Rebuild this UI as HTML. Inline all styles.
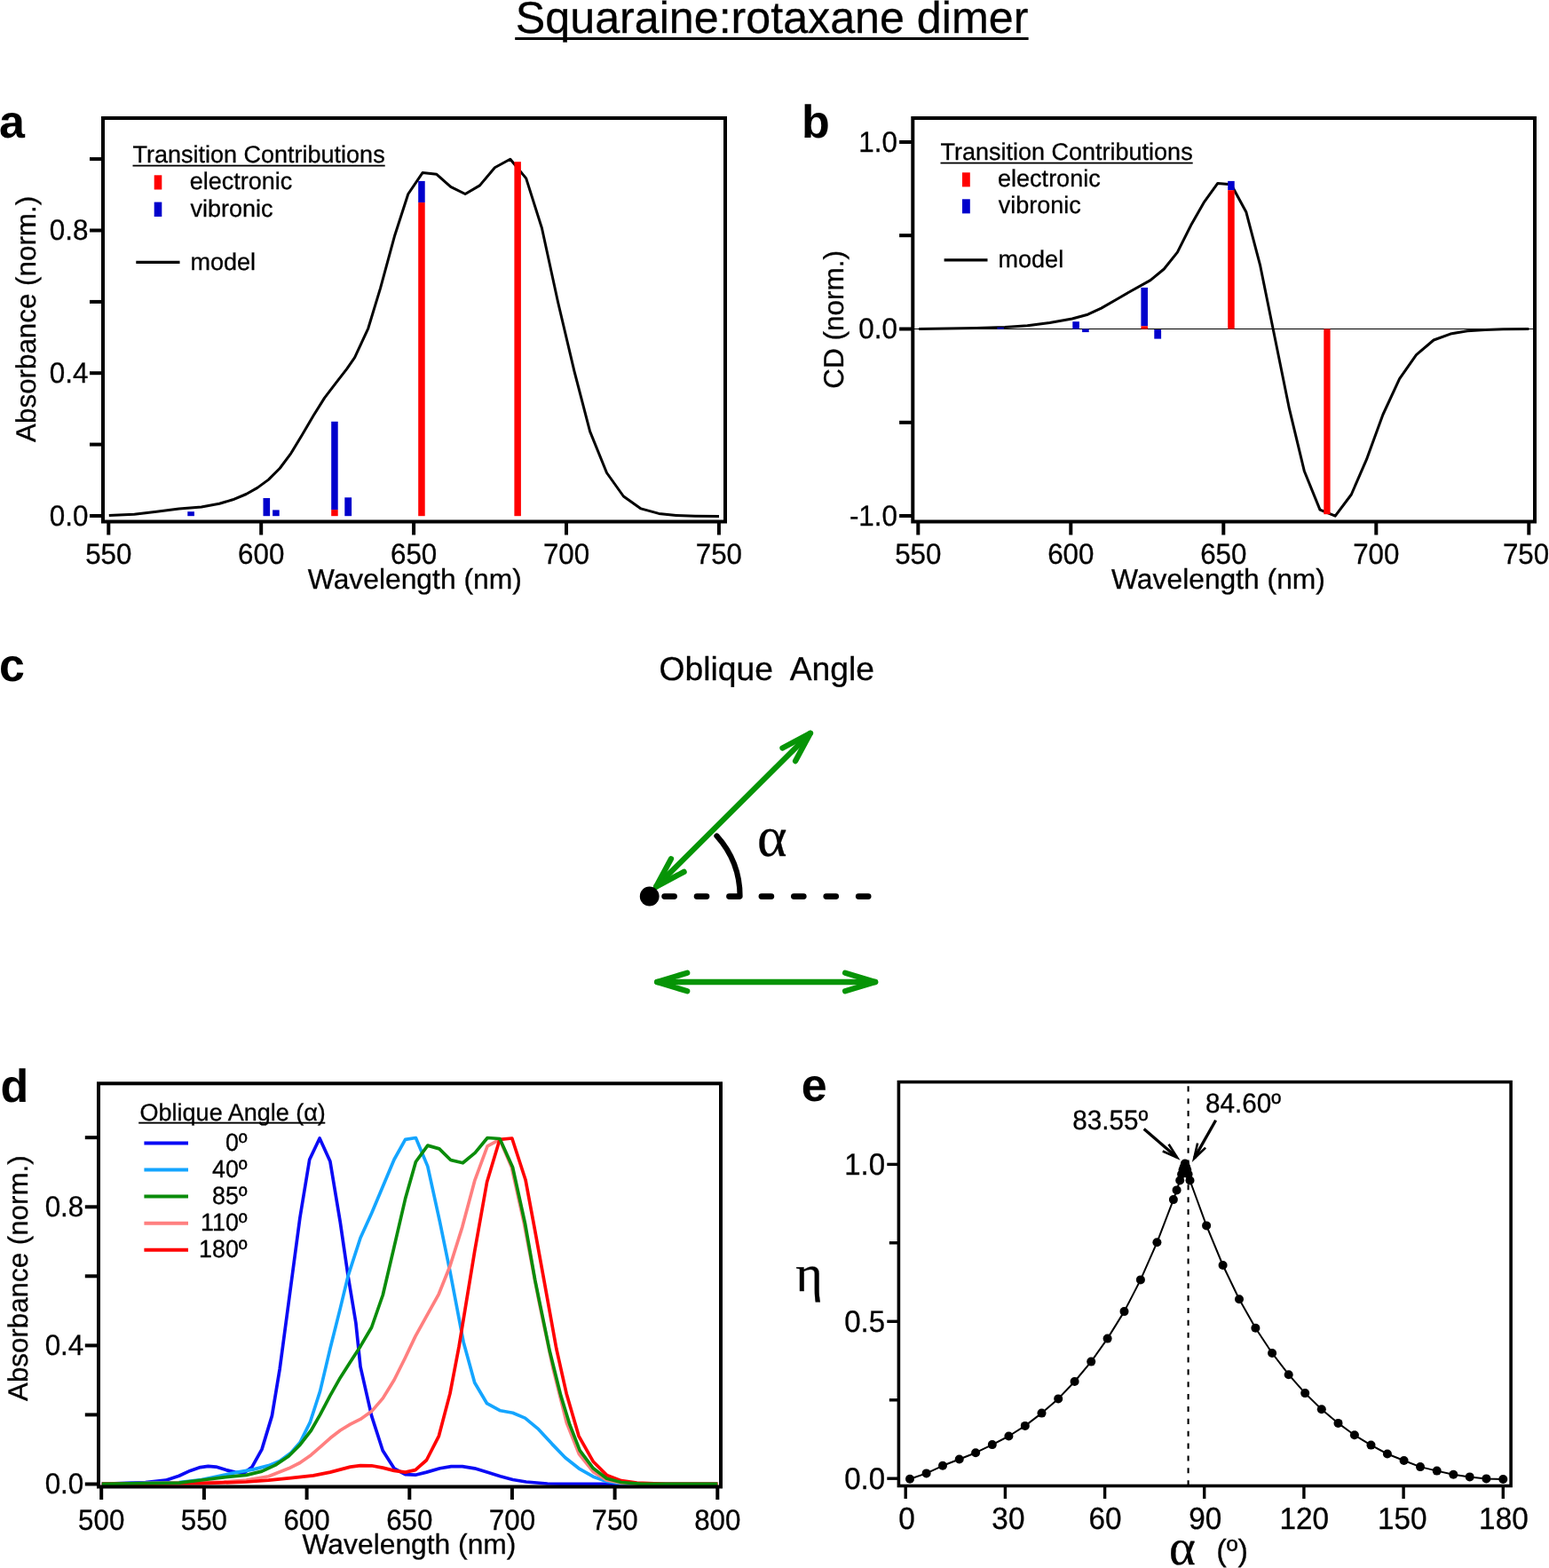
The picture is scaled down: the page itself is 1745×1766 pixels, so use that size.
<!DOCTYPE html>
<html lang="en">
<head>
<meta charset="utf-8">
<title>Squaraine:rotaxane dimer</title>
<style>
html,body{margin:0;padding:0;background:#fff;}
body{width:1745px;height:1766px;overflow:hidden;}
svg{display:block;font-family:'Liberation Sans', sans-serif;fill:#000;text-rendering:geometricPrecision;}
</style>
</head>
<body>
<svg width="1745" height="1766" viewBox="0 0 1745 1766">
<rect x="0" y="0" width="1745" height="1766" fill="#fff"/>
<text x="869.6" y="36.6" font-size="50.2" text-anchor="middle" stroke="#000" stroke-width="0.3">Squaraine:rotaxane dimer</text>
<rect x="580.2" y="42" width="578.4" height="3" fill="#000"/>
<text x="-1" y="155.3" font-size="52" font-weight="bold">a</text>
<text x="903" y="155.3" font-size="52" font-weight="bold">b</text>
<text x="-1" y="767" font-size="52" font-weight="bold">c</text>
<text x="0.5" y="1241" font-size="52" font-weight="bold">d</text>
<text x="902.8" y="1239.8" font-size="52" font-weight="bold">e</text>
<polyline points="122.8,580.5 151.3,579.2 176.5,576.2 201.7,573.1 226.9,570.9 247.1,567.3 262.2,562.8 277.4,556.5 290,549.4 302.6,540.1 315.2,527.5 327.8,510.6 340.4,489.7 353,468.3 365.6,448.1 378.2,431.7 390.8,415.3 399.6,402.7 414.8,369.8 428.6,324.4 444.7,265.2 459.8,218.5 476,194.6 491.9,196.3 507.7,210.4 524.1,218.5 540.5,208.9 557.4,188.8 574.8,179.2 592.7,200.9 610.4,256.8 628.5,340 646.9,417.8 664.6,485.9 683.5,532.5 702.4,559 722.1,572.9 742.2,578.4 761.7,580.5 783,581.2 810,581.5" fill="none" stroke="#000" stroke-width="3.0" stroke-linejoin="round"/>
<rect x="211.3" y="576.2" width="7.6" height="5" fill="#0000cc"/>
<rect x="296.5" y="561" width="7.6" height="20.2" fill="#0000cc"/>
<rect x="307.1" y="574.4" width="7.6" height="6.8" fill="#0000cc"/>
<rect x="373.2" y="474.8" width="7.5" height="99.3" fill="#0000cc"/>
<rect x="373.2" y="574.1" width="7.5" height="7.1" fill="#ff0000"/>
<rect x="388.3" y="560.3" width="7.8" height="20.9" fill="#0000cc"/>
<rect x="471.2" y="203.9" width="7.5" height="24.2" fill="#0000cc"/>
<rect x="471.2" y="228.1" width="7.5" height="353.1" fill="#ff0000"/>
<rect x="579.4" y="182.2" width="7.5" height="399" fill="#ff0000"/>
<rect x="116" y="133" width="701" height="454.5" fill="none" stroke="#000" stroke-width="4"/>
<line x1="101" y1="581" x2="116" y2="581" stroke="#000" stroke-width="4"/>
<line x1="101" y1="500.6" x2="116" y2="500.6" stroke="#000" stroke-width="4"/>
<line x1="101" y1="420.2" x2="116" y2="420.2" stroke="#000" stroke-width="4"/>
<line x1="101" y1="339.9" x2="116" y2="339.9" stroke="#000" stroke-width="4"/>
<line x1="101" y1="259.5" x2="116" y2="259.5" stroke="#000" stroke-width="4"/>
<line x1="101" y1="179.1" x2="116" y2="179.1" stroke="#000" stroke-width="4"/>
<line x1="122.3" y1="587.5" x2="122.3" y2="602.5" stroke="#000" stroke-width="4"/>
<text transform="translate(122.3,635) scale(1,1.04)" font-size="31.3" text-anchor="middle" stroke="#000" stroke-width="0.3">550</text>
<line x1="294.2" y1="587.5" x2="294.2" y2="602.5" stroke="#000" stroke-width="4"/>
<text transform="translate(294.2,635) scale(1,1.04)" font-size="31.3" text-anchor="middle" stroke="#000" stroke-width="0.3">600</text>
<line x1="466.1" y1="587.5" x2="466.1" y2="602.5" stroke="#000" stroke-width="4"/>
<text transform="translate(466.1,635) scale(1,1.04)" font-size="31.3" text-anchor="middle" stroke="#000" stroke-width="0.3">650</text>
<line x1="638" y1="587.5" x2="638" y2="602.5" stroke="#000" stroke-width="4"/>
<text transform="translate(638,635) scale(1,1.04)" font-size="31.3" text-anchor="middle" stroke="#000" stroke-width="0.3">700</text>
<line x1="809.9" y1="587.5" x2="809.9" y2="602.5" stroke="#000" stroke-width="4"/>
<text transform="translate(809.9,635) scale(1,1.04)" font-size="31.3" text-anchor="middle" stroke="#000" stroke-width="0.3">750</text>
<text transform="translate(99.5,591.65) scale(1,1.04)" font-size="31.4" text-anchor="end" stroke="#000" stroke-width="0.3">0.0</text>
<text transform="translate(99.5,430.89) scale(1,1.04)" font-size="31.4" text-anchor="end" stroke="#000" stroke-width="0.3">0.4</text>
<text transform="translate(99.5,270.13) scale(1,1.04)" font-size="31.4" text-anchor="end" stroke="#000" stroke-width="0.3">0.8</text>
<text x="467.3" y="663.3" font-size="31.8" text-anchor="middle" stroke="#000" stroke-width="0.3">Wavelength (nm)</text>
<text transform="translate(39.5,359.4) rotate(-90)" font-size="31.35" text-anchor="middle" stroke="#000" stroke-width="0.3">Absorbance (norm.)</text>
<text x="149.5" y="183.2" font-size="27" stroke="#000" stroke-width="0.3">Transition Contributions</text>
<rect x="149.5" y="185.7" width="284.2" height="1.8" fill="#000"/>
<rect x="173.7" y="197.3" width="8.6" height="16.2" fill="#ff0000"/>
<text x="213.8" y="213" font-size="27" stroke="#000" stroke-width="0.3">electronic</text>
<rect x="173.7" y="227.6" width="8.6" height="16.4" fill="#0000cc"/>
<text x="214.5" y="243.7" font-size="27" stroke="#000" stroke-width="0.3">vibronic</text>
<line x1="153.3" y1="295.4" x2="202.5" y2="295.4" stroke="#000" stroke-width="3.2"/>
<text x="214.5" y="303.7" font-size="27" stroke="#000" stroke-width="0.3">model</text>
<line x1="1028.3" y1="370.5" x2="1729" y2="370.5" stroke="#000" stroke-width="1.2"/>
<polyline points="1035,370.5 1100,369.5 1132.1,368.5 1157.4,366.8 1182.6,363.5 1207.8,359 1225.4,354.2 1240.6,347.1 1258.2,337 1273.3,328.2 1296,315.6 1311.3,303 1326.4,284.1 1341.6,253.8 1356.7,227.3 1371.8,206.4 1387,207.7 1403.8,238.7 1419.7,299.2 1436.1,380 1452.5,460.7 1469.4,530.8 1487,574.1 1504.2,581.2 1522.3,557 1539.5,517.4 1557.9,467 1576.6,426.6 1595.5,399.7 1615.1,383 1634,376.1 1653,372.8 1673.1,371.6 1693.3,370.8 1722.3,370.5" fill="none" stroke="#000" stroke-width="3.0" stroke-linejoin="round"/>
<rect x="1123.3" y="368.8" width="7.6" height="1.7" fill="#0000cc"/>
<rect x="1208.3" y="362.2" width="7.6" height="8.3" fill="#0000cc"/>
<rect x="1219.1" y="370.5" width="7.6" height="3.6" fill="#0000cc"/>
<rect x="1285.4" y="323.9" width="7.6" height="43.4" fill="#0000cc"/>
<rect x="1285.4" y="367.3" width="7.6" height="3.2" fill="#ff0000"/>
<rect x="1300.3" y="371" width="7.8" height="10.6" fill="#0000cc"/>
<rect x="1383.2" y="203.9" width="7.5" height="10.3" fill="#0000cc"/>
<rect x="1383.2" y="214.2" width="7.5" height="156.3" fill="#ff0000"/>
<rect x="1491.3" y="370.5" width="7.3" height="208.7" fill="#ff0000"/>
<rect x="1028.3" y="133" width="700.7" height="454.5" fill="none" stroke="#000" stroke-width="4"/>
<line x1="1013.1" y1="581" x2="1028.3" y2="581" stroke="#000" stroke-width="4"/>
<line x1="1013.1" y1="475.8" x2="1028.3" y2="475.8" stroke="#000" stroke-width="4"/>
<line x1="1013.1" y1="370.5" x2="1028.3" y2="370.5" stroke="#000" stroke-width="4"/>
<line x1="1013.1" y1="265.2" x2="1028.3" y2="265.2" stroke="#000" stroke-width="4"/>
<line x1="1013.1" y1="160" x2="1028.3" y2="160" stroke="#000" stroke-width="4"/>
<line x1="1034.3" y1="587.5" x2="1034.3" y2="602.5" stroke="#000" stroke-width="4"/>
<text transform="translate(1034.3,635) scale(1,1.04)" font-size="31.3" text-anchor="middle" stroke="#000" stroke-width="0.3">550</text>
<line x1="1206.3" y1="587.5" x2="1206.3" y2="602.5" stroke="#000" stroke-width="4"/>
<text transform="translate(1206.3,635) scale(1,1.04)" font-size="31.3" text-anchor="middle" stroke="#000" stroke-width="0.3">600</text>
<line x1="1378.3" y1="587.5" x2="1378.3" y2="602.5" stroke="#000" stroke-width="4"/>
<text transform="translate(1378.3,635) scale(1,1.04)" font-size="31.3" text-anchor="middle" stroke="#000" stroke-width="0.3">650</text>
<line x1="1550.3" y1="587.5" x2="1550.3" y2="602.5" stroke="#000" stroke-width="4"/>
<text transform="translate(1550.3,635) scale(1,1.04)" font-size="31.3" text-anchor="middle" stroke="#000" stroke-width="0.3">700</text>
<line x1="1722.3" y1="587.5" x2="1722.3" y2="602.5" stroke="#000" stroke-width="4"/>
<text transform="translate(1719,635) scale(1,1.04)" font-size="31.3" text-anchor="middle" stroke="#000" stroke-width="0.3">750</text>
<text transform="translate(1011,591.65) scale(1,1.04)" font-size="31.4" text-anchor="end" stroke="#000" stroke-width="0.3">-1.0</text>
<text transform="translate(1011,381.15) scale(1,1.04)" font-size="31.4" text-anchor="end" stroke="#000" stroke-width="0.3">0.0</text>
<text transform="translate(1011,170.65) scale(1,1.04)" font-size="31.4" text-anchor="end" stroke="#000" stroke-width="0.3">1.0</text>
<text x="1372.5" y="663.3" font-size="31.8" text-anchor="middle" stroke="#000" stroke-width="0.3">Wavelength (nm)</text>
<text transform="translate(949.9,359.8) rotate(-90)" font-size="31.5" text-anchor="middle" stroke="#000" stroke-width="0.3">CD (norm.)</text>
<text x="1059.5" y="180.2" font-size="27" stroke="#000" stroke-width="0.3">Transition Contributions</text>
<rect x="1059.5" y="182.7" width="284.2" height="1.8" fill="#000"/>
<rect x="1084" y="194.3" width="8.8" height="16.1" fill="#ff0000"/>
<text x="1124.1" y="209.9" font-size="27" stroke="#000" stroke-width="0.3">electronic</text>
<rect x="1084" y="224.3" width="8.8" height="16.1" fill="#0000cc"/>
<text x="1124.8" y="240.2" font-size="27" stroke="#000" stroke-width="0.3">vibronic</text>
<line x1="1063.6" y1="292.9" x2="1112.5" y2="292.9" stroke="#000" stroke-width="3.2"/>
<text x="1124.6" y="300.5" font-size="27" stroke="#000" stroke-width="0.3">model</text>
<text x="742.5" y="766" font-size="37.3" stroke="#000" stroke-width="0.3" xml:space="preserve">Oblique  Angle</text>
<line x1="748.7" y1="1009.6" x2="983" y2="1009.6" stroke="#000" stroke-width="6.9" stroke-dasharray="10.8 25.63" stroke-linecap="round"/>
<path d="M807.4,941.4 A102,102 0 0 1 833.6,1009.6" fill="none" stroke="#000" stroke-width="6.1" stroke-linecap="round"/>
<line x1="739.2" y1="998.6" x2="912.9" y2="825.8" stroke="#069406" stroke-width="6.3" stroke-linecap="round"/>
<polyline points="896.1,857.1 912.9,825.8 881.5,842.5" fill="none" stroke="#069406" stroke-width="6.3" stroke-linecap="round" stroke-linejoin="round"/>
<polyline points="770.6,981.9 739.2,998.6 756,967.3" fill="none" stroke="#069406" stroke-width="6.3" stroke-linecap="round" stroke-linejoin="round"/>
<circle cx="731.7" cy="1009.5" r="10.9" fill="#000"/>
<line x1="740.2" y1="1106" x2="986.1" y2="1106" stroke="#069406" stroke-width="6.3" stroke-linecap="round"/>
<polyline points="952.1,1116.3 986.1,1106 952.1,1095.7" fill="none" stroke="#069406" stroke-width="6.3" stroke-linecap="round" stroke-linejoin="round"/>
<polyline points="774.2,1116.3 740.2,1106 774.2,1095.7" fill="none" stroke="#069406" stroke-width="6.3" stroke-linecap="round" stroke-linejoin="round"/>
<text x="853" y="963.5" font-size="64" font-family="'Liberation Serif', serif" stroke="#000" stroke-width="0.3">α</text>
<polyline points="114.7,1671.4 163.9,1669.7 186.6,1667.2 201.7,1662.2 214.3,1656.4 225.7,1652.6 234.5,1651.3 243.3,1652.1 254.7,1655.6 264.8,1658.1 274.8,1658.9 283.7,1652.6 295,1632.4 306.4,1594.6 315.2,1541.6 325.3,1466 337.9,1371.5 348.7,1306 360.1,1282 371.9,1308 383.3,1376.6 392.1,1437.1 400.9,1490 406,1539.1 418.6,1594.6 431.2,1633.7 444,1653.8 456.6,1660.7 467.9,1661.2 480.5,1658.1 495.6,1653.8 508.3,1651.6 520.9,1651.6 534.7,1653.8 548.6,1658.1 563.7,1662.7 577.6,1666.5 592.7,1669 616.7,1671 646.9,1671.4 697.4,1671.4 808.3,1671.4" fill="none" stroke="#0a0af5" stroke-width="3.7" stroke-linejoin="round"/>
<polyline points="114.7,1671.4 201.7,1669.7 226.9,1666.5 252.1,1661.4 267.3,1658.1 284.9,1655.1 302.6,1650.6 315.2,1645.5 327.8,1636.2 337.9,1624.8 349.2,1602.2 360.6,1566.9 371.9,1519 383.3,1473.6 392.1,1437.1 406,1394.2 418.6,1366.5 444,1306 456.6,1283.3 468.4,1281.5 481.8,1313.6 495.6,1376.6 507,1432.1 522.1,1511.4 534.7,1557.3 548.6,1580.7 563.7,1588.8 577.6,1591.3 591.5,1597.1 606.6,1609.7 621.7,1626.1 636.8,1641.7 652,1653.8 668.4,1663.2 683.5,1668.5 699.9,1671 722,1671.4 808.3,1671.4" fill="none" stroke="#14a5ff" stroke-width="3.7" stroke-linejoin="round"/>
<polyline points="114.7,1671.4 252.1,1669 277.4,1667 302.6,1662.7 325.3,1653.8 337.9,1647.5 350.5,1638.7 360.6,1629.9 371.9,1619.8 383.3,1611 394.6,1604.2 406,1598.4 418.6,1589.6 431.3,1574.9 444,1554.3 456.6,1529 467.9,1505.1 480.5,1482.4 494.4,1457.3 507,1425.8 520.9,1381.6 534.7,1329.9 549.1,1290.9 563,1283.3 576.4,1314.8 590.4,1377.8 607.2,1466 623.1,1541.6 638.3,1602.2 652.3,1637.5 668.3,1657.6 683.3,1667 700.6,1670.2 722.7,1671.4 809,1671.4" fill="none" stroke="#ff7f7f" stroke-width="3.7" stroke-linejoin="round"/>
<polyline points="114.7,1671.4 226.9,1670.7 277.4,1669 302.6,1667.2 327.8,1664.7 353,1661.9 371.9,1658.1 383.3,1655.1 394.6,1652.1 406,1650.6 418.6,1650.8 431.3,1653.1 444,1656.4 456.6,1658.1 467.9,1655.6 480.5,1644.5 494.4,1617.3 507,1569.4 517.1,1516.4 534.7,1409.4 548.6,1331.2 563,1283.3 576.8,1282 592,1328.7 602.8,1386.7 612.9,1442.1 626.8,1519 638.1,1569.4 652,1617.3 668.4,1646.3 683.5,1661.4 699.9,1667.7 717.5,1670.2 750,1671.4 808.3,1671.4" fill="none" stroke="#ff0000" stroke-width="3.7" stroke-linejoin="round"/>
<polyline points="114.7,1671.4 201.7,1670.2 226.9,1667 252.1,1663.9 277.4,1661.4 295,1657.1 310.1,1650.1 325.3,1640 337.9,1627.4 350.5,1611 360.6,1593.3 371.9,1571.9 383.3,1551.7 394.6,1534.1 406,1516.4 418.6,1495 431.3,1458.5 444,1404.3 456.6,1350.1 468.4,1308.5 481.8,1290.1 494.9,1293.9 507.7,1306.5 521.4,1309.8 535.2,1298.4 549.1,1281.5 563,1282.5 577.6,1314.8 591.5,1377.8 602.8,1442.1 619.2,1521.5 631.8,1571.9 641.9,1604.7 653.2,1633.7 668.4,1653.8 683.5,1665.2 699.9,1669.5 722.6,1671.4 808.3,1671.4" fill="none" stroke="#0a8c0a" stroke-width="3.7" stroke-linejoin="round"/>
<rect x="111" y="1220.3" width="701" height="454.2" fill="none" stroke="#000" stroke-width="4"/>
<line x1="95.8" y1="1671.5" x2="111" y2="1671.5" stroke="#000" stroke-width="4"/>
<line x1="95.8" y1="1593.4" x2="111" y2="1593.4" stroke="#000" stroke-width="4"/>
<line x1="95.8" y1="1515.4" x2="111" y2="1515.4" stroke="#000" stroke-width="4"/>
<line x1="95.8" y1="1437.3" x2="111" y2="1437.3" stroke="#000" stroke-width="4"/>
<line x1="95.8" y1="1359.3" x2="111" y2="1359.3" stroke="#000" stroke-width="4"/>
<line x1="95.8" y1="1281.2" x2="111" y2="1281.2" stroke="#000" stroke-width="4"/>
<line x1="114.2" y1="1674.5" x2="114.2" y2="1689" stroke="#000" stroke-width="4"/>
<text transform="translate(114.2,1723.2) scale(1,1.04)" font-size="31.3" text-anchor="middle" stroke="#000" stroke-width="0.3">500</text>
<line x1="229.9" y1="1674.5" x2="229.9" y2="1689" stroke="#000" stroke-width="4"/>
<text transform="translate(229.88,1723.2) scale(1,1.04)" font-size="31.3" text-anchor="middle" stroke="#000" stroke-width="0.3">550</text>
<line x1="345.6" y1="1674.5" x2="345.6" y2="1689" stroke="#000" stroke-width="4"/>
<text transform="translate(345.57,1723.2) scale(1,1.04)" font-size="31.3" text-anchor="middle" stroke="#000" stroke-width="0.3">600</text>
<line x1="461.3" y1="1674.5" x2="461.3" y2="1689" stroke="#000" stroke-width="4"/>
<text transform="translate(461.25,1723.2) scale(1,1.04)" font-size="31.3" text-anchor="middle" stroke="#000" stroke-width="0.3">650</text>
<line x1="576.9" y1="1674.5" x2="576.9" y2="1689" stroke="#000" stroke-width="4"/>
<text transform="translate(576.94,1723.2) scale(1,1.04)" font-size="31.3" text-anchor="middle" stroke="#000" stroke-width="0.3">700</text>
<line x1="692.6" y1="1674.5" x2="692.6" y2="1689" stroke="#000" stroke-width="4"/>
<text transform="translate(692.62,1723.2) scale(1,1.04)" font-size="31.3" text-anchor="middle" stroke="#000" stroke-width="0.3">750</text>
<line x1="808.3" y1="1674.5" x2="808.3" y2="1689" stroke="#000" stroke-width="4"/>
<text transform="translate(808.31,1723.2) scale(1,1.04)" font-size="31.3" text-anchor="middle" stroke="#000" stroke-width="0.3">800</text>
<text transform="translate(94.3,1682.15) scale(1,1.04)" font-size="31.4" text-anchor="end" stroke="#000" stroke-width="0.3">0.0</text>
<text transform="translate(94.3,1526.03) scale(1,1.04)" font-size="31.4" text-anchor="end" stroke="#000" stroke-width="0.3">0.4</text>
<text transform="translate(94.3,1369.91) scale(1,1.04)" font-size="31.4" text-anchor="end" stroke="#000" stroke-width="0.3">0.8</text>
<text x="461" y="1749.7" font-size="31.8" text-anchor="middle" stroke="#000" stroke-width="0.3">Wavelength (nm)</text>
<text transform="translate(30.5,1439.7) rotate(-90)" font-size="31.3" text-anchor="middle" stroke="#000" stroke-width="0.3">Absorbance (norm.)</text>
<text x="157.6" y="1261.8" font-size="27" stroke="#000" stroke-width="0.3">Oblique Angle (α)</text>
<rect x="156.2" y="1263.7" width="210.1" height="1.9" fill="#000"/>
<line x1="162.4" y1="1287.4" x2="212" y2="1287.4" stroke="#0a0af5" stroke-width="4"/>
<text transform="translate(278.6,1295.5) scale(1,1.04)" font-size="26.8" text-anchor="end" stroke="#000" stroke-width="0.3">0º</text>
<line x1="162.4" y1="1317.5" x2="212" y2="1317.5" stroke="#14a5ff" stroke-width="4"/>
<text transform="translate(278.6,1325.6) scale(1,1.04)" font-size="26.8" text-anchor="end" stroke="#000" stroke-width="0.3">40º</text>
<line x1="162.4" y1="1347.6" x2="212" y2="1347.6" stroke="#0a8c0a" stroke-width="4"/>
<text transform="translate(278.6,1355.7) scale(1,1.04)" font-size="26.8" text-anchor="end" stroke="#000" stroke-width="0.3">85º</text>
<line x1="162.4" y1="1377.7" x2="212" y2="1377.7" stroke="#ff7f7f" stroke-width="4"/>
<text transform="translate(278.6,1385.8) scale(1,1.04)" font-size="26.8" text-anchor="end" stroke="#000" stroke-width="0.3">110º</text>
<line x1="162.4" y1="1407.8" x2="212" y2="1407.8" stroke="#ff0000" stroke-width="4"/>
<text transform="translate(278.6,1415.9) scale(1,1.04)" font-size="26.8" text-anchor="end" stroke="#000" stroke-width="0.3">180º</text>
<line x1="1338.6" y1="1223.3" x2="1338.6" y2="1672" stroke="#000" stroke-width="2.1" stroke-dasharray="6.1 7.77"/>
<polyline points="1025,1665.7 1043.6,1659.4 1062,1650.8 1080.7,1643.5 1099.1,1636.2 1117.8,1627.1 1136.4,1617.5 1154.8,1605.9 1173.5,1591.6 1192.2,1575.4 1210.6,1556 1229.2,1533.6 1247.6,1507.6 1266.5,1477.1 1284.9,1441.4 1303.4,1399.3 1321.9,1351.1 1325.6,1340.4 1329.2,1329.5 1331.1,1322.5 1332.5,1317.8 1333.7,1314.2 1334.9,1310.6 1336.1,1314.2 1337.3,1317.8 1338.6,1322.5 1340.5,1329.5 1359.1,1380.4 1377.6,1425 1396,1463.2 1414.4,1495.8 1433.1,1524 1451.7,1548.2 1470.2,1569.1 1488.8,1587.3 1507.5,1602.9 1525.9,1616.3 1544.5,1627.6 1562.9,1637.5 1581.6,1645 1600,1652.1 1618.7,1656.6 1637.3,1660.7 1655.7,1663.4 1674.4,1665.4 1693.3,1666" fill="none" stroke="#000" stroke-width="2" stroke-linejoin="round"/>
<circle cx="1025" cy="1665.7" r="5"/>
<circle cx="1043.6" cy="1659.4" r="5"/>
<circle cx="1062" cy="1650.8" r="5"/>
<circle cx="1080.7" cy="1643.5" r="5"/>
<circle cx="1099.1" cy="1636.2" r="5"/>
<circle cx="1117.8" cy="1627.1" r="5"/>
<circle cx="1136.4" cy="1617.5" r="5"/>
<circle cx="1154.8" cy="1605.9" r="5"/>
<circle cx="1173.5" cy="1591.6" r="5"/>
<circle cx="1192.2" cy="1575.4" r="5"/>
<circle cx="1210.6" cy="1556" r="5"/>
<circle cx="1229.2" cy="1533.6" r="5"/>
<circle cx="1247.6" cy="1507.6" r="5"/>
<circle cx="1266.5" cy="1477.1" r="5"/>
<circle cx="1284.9" cy="1441.4" r="5"/>
<circle cx="1303.4" cy="1399.3" r="5"/>
<circle cx="1321.9" cy="1351.1" r="5"/>
<circle cx="1325.6" cy="1340.4" r="5"/>
<circle cx="1329.2" cy="1329.5" r="5"/>
<circle cx="1331.1" cy="1322.5" r="5"/>
<circle cx="1332.5" cy="1317.8" r="5"/>
<circle cx="1333.7" cy="1314.2" r="5"/>
<circle cx="1334.9" cy="1310.6" r="5"/>
<circle cx="1336.1" cy="1314.2" r="5"/>
<circle cx="1337.3" cy="1317.8" r="5"/>
<circle cx="1338.6" cy="1322.5" r="5"/>
<circle cx="1340.5" cy="1329.5" r="5"/>
<circle cx="1359.1" cy="1380.4" r="5"/>
<circle cx="1377.6" cy="1425" r="5"/>
<circle cx="1396" cy="1463.2" r="5"/>
<circle cx="1414.4" cy="1495.8" r="5"/>
<circle cx="1433.1" cy="1524" r="5"/>
<circle cx="1451.7" cy="1548.2" r="5"/>
<circle cx="1470.2" cy="1569.1" r="5"/>
<circle cx="1488.8" cy="1587.3" r="5"/>
<circle cx="1507.5" cy="1602.9" r="5"/>
<circle cx="1525.9" cy="1616.3" r="5"/>
<circle cx="1544.5" cy="1627.6" r="5"/>
<circle cx="1562.9" cy="1637.5" r="5"/>
<circle cx="1581.6" cy="1645" r="5"/>
<circle cx="1600" cy="1652.1" r="5"/>
<circle cx="1618.7" cy="1656.6" r="5"/>
<circle cx="1637.3" cy="1660.7" r="5"/>
<circle cx="1655.7" cy="1663.4" r="5"/>
<circle cx="1674.4" cy="1665.4" r="5"/>
<circle cx="1693.3" cy="1666" r="5"/>
<rect x="1012.4" y="1218.6" width="689.7" height="454.9" fill="none" stroke="#000" stroke-width="3.6"/>
<line x1="999.3" y1="1665.2" x2="1012.4" y2="1665.2" stroke="#000" stroke-width="3.4"/>
<line x1="999.3" y1="1488.3" x2="1012.4" y2="1488.3" stroke="#000" stroke-width="3.4"/>
<line x1="999.3" y1="1311.4" x2="1012.4" y2="1311.4" stroke="#000" stroke-width="3.4"/>
<line x1="1001.8" y1="1576.8" x2="1012.4" y2="1576.8" stroke="#000" stroke-width="3.4"/>
<line x1="1001.8" y1="1399.8" x2="1012.4" y2="1399.8" stroke="#000" stroke-width="3.4"/>
<line x1="1020.2" y1="1673.5" x2="1020.2" y2="1688" stroke="#000" stroke-width="3.4"/>
<text transform="translate(1021.4,1722.3) scale(1,1.04)" font-size="33.3" text-anchor="middle" stroke="#000" stroke-width="0.3">0</text>
<line x1="1132.4" y1="1673.5" x2="1132.4" y2="1688" stroke="#000" stroke-width="3.4"/>
<text transform="translate(1135.88,1722.3) scale(1,1.04)" font-size="33.3" text-anchor="middle" stroke="#000" stroke-width="0.3">30</text>
<line x1="1244.6" y1="1673.5" x2="1244.6" y2="1688" stroke="#000" stroke-width="3.4"/>
<text transform="translate(1244.96,1722.3) scale(1,1.04)" font-size="33.3" text-anchor="middle" stroke="#000" stroke-width="0.3">60</text>
<line x1="1356.7" y1="1673.5" x2="1356.7" y2="1688" stroke="#000" stroke-width="3.4"/>
<text transform="translate(1357.75,1722.3) scale(1,1.04)" font-size="33.3" text-anchor="middle" stroke="#000" stroke-width="0.3">90</text>
<line x1="1468.9" y1="1673.5" x2="1468.9" y2="1688" stroke="#000" stroke-width="3.4"/>
<text transform="translate(1469.23,1722.3) scale(1,1.04)" font-size="33.3" text-anchor="middle" stroke="#000" stroke-width="0.3">120</text>
<line x1="1581.1" y1="1673.5" x2="1581.1" y2="1688" stroke="#000" stroke-width="3.4"/>
<text transform="translate(1579.81,1722.3) scale(1,1.04)" font-size="33.3" text-anchor="middle" stroke="#000" stroke-width="0.3">150</text>
<line x1="1693.3" y1="1673.5" x2="1693.3" y2="1688" stroke="#000" stroke-width="3.4"/>
<text transform="translate(1693.89,1722.3) scale(1,1.04)" font-size="33.3" text-anchor="middle" stroke="#000" stroke-width="0.3">180</text>
<text transform="translate(997.1,1676.9) scale(1,1.04)" font-size="33" text-anchor="end" stroke="#000" stroke-width="0.3">0.0</text>
<text transform="translate(997.1,1500) scale(1,1.04)" font-size="33" text-anchor="end" stroke="#000" stroke-width="0.3">0.5</text>
<text transform="translate(997.1,1323.1) scale(1,1.04)" font-size="33" text-anchor="end" stroke="#000" stroke-width="0.3">1.0</text>
<text transform="translate(1208.3,1271.8) scale(1,1.04)" font-size="29.7" stroke="#000" stroke-width="0.3">83.55º</text>
<text transform="translate(1357.9,1252.8) scale(1,1.04)" font-size="29.7" stroke="#000" stroke-width="0.3">84.60º</text>
<line x1="1288.7" y1="1271.4" x2="1325.5" y2="1303.2" stroke="#000" stroke-width="3.3"/>
<polyline points="1316.6,1288.7 1326.2,1303.9 1309.8,1296.5" fill="none" stroke="#000" stroke-width="2.6" stroke-linejoin="miter"/>
<line x1="1369.6" y1="1261.7" x2="1345.6" y2="1304.1" stroke="#000" stroke-width="3.3"/>
<polyline points="1358.1,1292.6 1345.1,1305 1349.1,1287.5" fill="none" stroke="#000" stroke-width="2.6" stroke-linejoin="miter"/>
<text x="896.3" y="1454.3" font-size="58.5" font-family="'Liberation Serif', serif" stroke="#000" stroke-width="0.3">η</text>
<text x="1317" y="1762" font-size="57" font-family="'Liberation Serif', serif" stroke="#000" stroke-width="0.3">α</text>
<text x="1370.3" y="1757.6" font-size="34.5" stroke="#000" stroke-width="0.3">(º)</text>
</svg>
</body>
</html>
